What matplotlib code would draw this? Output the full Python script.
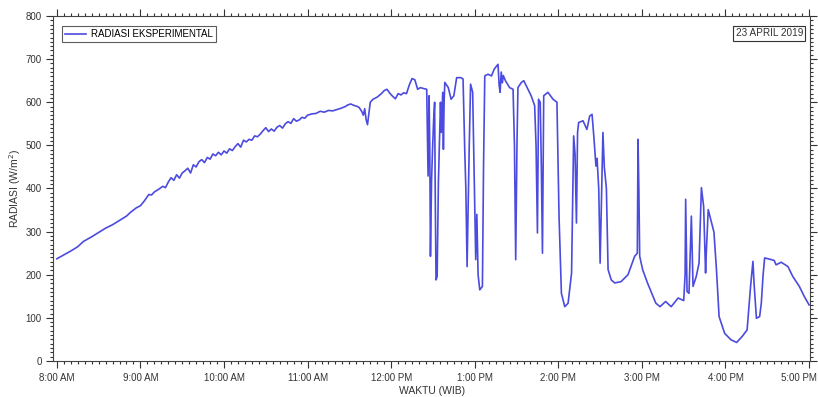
import matplotlib
matplotlib.use("Agg")
import matplotlib.pyplot as plt
from matplotlib.ticker import MultipleLocator
import matplotlib.transforms as mtransforms

plt.rcParams['font.family'] = ['Liberation Sans', 'DejaVu Sans']

# minutes after 8:00 AM
minutes = [0, 5, 10, 15, 19, 25, 30, 35, 40, 43, 47, 50, 53, 57, 60, 63, 66, 68, 70, 73, 76, 78, 80, 82, 84, 86, 88,
           90, 92, 94, 96, 98, 100, 102, 104, 106, 108, 110, 112, 114, 116, 118, 120, 122, 124, 126, 128, 130, 132,
           134, 136, 138, 140, 142, 144, 146, 148, 150, 152, 154, 156, 158, 160, 162, 164, 166, 168, 170, 172, 174,
           176, 178, 180, 183, 186, 189, 192, 195, 198, 201, 204, 207, 209, 211, 213, 215, 217, 219, 220, 221, 222,
           223, 224, 225, 227, 230, 233, 235, 237, 239, 241, 243, 245, 247, 249, 251, 253, 255, 257, 259, 261, 263,
           265.5, 266.5, 267.2, 267.7, 268.2, 269, 269.7, 270.5, 271.2, 271.6, 272.2, 273, 273.9, 275.4, 276, 277,
           277.5, 278, 278.5, 281, 283, 285, 287, 290, 291.6, 292.8, 293.6, 294.5, 296, 297, 298.5, 299.5, 300.7,
           301.5, 302.4, 303.6, 305.5, 306.3, 307.2, 309.5, 312, 314, 316.7, 317.5, 318.2, 319, 319.8, 320.5, 322,
           325, 327.5, 328.5, 329.4, 330.3, 331, 333.5, 335.2, 337, 340.5, 343, 344, 345, 345.8, 347, 347.8, 348.6,
           349.5, 352.5, 356.2, 359, 360.5, 362.2, 364.6, 367, 369.5, 371, 372, 373, 373.8, 374.6, 377.7, 380.5,
           382.5, 384.2, 385.5, 387, 387.8, 389, 390, 391, 392, 393, 394.5, 395.7, 398, 400.5, 405, 410, 414.8,
           416.7, 417.2, 417.8, 418.4, 420.5, 424, 428, 430, 433, 437, 441, 446, 450, 451, 451.4, 452.4, 453.8,
           455.5, 456.7, 459, 461, 462.7, 464.3, 465.7, 466.2, 467.6, 470, 471.7, 473.5, 475.4, 479.4, 484, 488,
           492, 495.5, 498, 499.7, 500.5, 502.2, 504.5, 505.7, 507, 508.1, 513, 515, 516.3, 520, 524.8, 528.3, 533,
           536.5, 540]

radiasi = [237, 246, 255, 265, 277, 288, 298, 308, 316, 322, 330, 336, 345, 355, 360, 372, 386, 385, 392, 398, 405,
           402, 415, 425, 419, 432, 424, 436, 441, 447, 436, 455, 450, 462, 467, 460, 472, 468, 480, 476, 484, 478,
           487, 482, 492, 488, 497, 504, 496, 512, 508, 514, 512, 522, 520, 526, 534, 541, 532, 538, 533, 542, 546,
           540, 550, 555, 551, 562, 556, 559, 565, 563, 570, 573, 574, 579, 577, 581, 580, 583, 586, 590, 594, 596,
           593, 591, 588, 578, 570, 585, 560, 548, 574, 600, 607, 612, 620, 627, 630, 621, 614, 608, 620, 617, 622,
           620, 640, 655, 652, 630, 634, 632, 630, 429, 615, 500, 243, 420, 491, 560, 600, 400, 188, 196, 413, 600,
           530, 623, 491, 600, 646, 634, 607, 615, 657, 657, 654, 491, 400, 219, 491, 642, 623, 450, 235, 340, 200,
           165, 173, 450, 661, 665, 661, 677, 688, 640, 623, 670, 645, 662, 650, 634, 630, 500, 235, 500, 634, 646,
           650, 638, 615, 592, 500, 297, 607, 600, 450, 250, 615, 623, 607, 600, 336, 157, 126, 134, 204, 522, 480,
           320, 530, 553, 557, 537, 568, 572, 520, 452, 470, 400, 227, 380, 530, 450, 400, 212, 188, 181, 184, 200,
           243, 250, 514, 400, 243, 212, 181, 150, 134, 126, 138, 126, 146, 140, 200, 375, 161, 157, 336, 173, 196,
           227, 402, 359, 204, 250, 351, 320, 299, 212, 103, 64, 49, 43, 57, 72, 173, 231, 180, 99, 103, 134, 200,
           239, 235, 233, 223, 229, 219, 196, 173, 150, 130]

tick_minutes = [0, 60, 120, 180, 240, 300, 360, 420, 480, 540]
tick_labels = ["8:00 AM", "9:00 AM", "10:00 AM", "11:00 AM", "12:00 PM",
               "1:00 PM", "2:00 PM", "3:00 PM", "4:00 PM", "5:00 PM"]
y_ticks = [0, 100, 200, 300, 400, 500, 600, 700, 800]

fig = plt.figure(figsize=(8.18, 3.97), dpi=100)
ax = fig.add_axes([0.0654, 0.0907, 0.9254, 0.869])

ax.plot(minutes, radiasi, color='#4b4bdf', linewidth=1.2, label='RADIASI EKSPERIMENTAL')

ax.set_xlim(-2.4, 541)
ax.set_ylim(0, 800)
ax.set_xticks(tick_minutes)
ax.set_xticklabels(tick_labels)
ax.set_yticks(y_ticks)
ax.xaxis.set_minor_locator(MultipleLocator(5))
ax.yaxis.set_minor_locator(MultipleLocator(10))
ax.tick_params(which='both', direction='out', top=True, right=True, labelsize=7, colors='#333333',
               labelcolor='#333333', width=0.8)
ax.tick_params(which='major', length=5)
ax.tick_params(which='minor', length=2.5)
ax.tick_params(axis='x', pad=4)
for s in ax.spines.values():
    s.set_color('#444444')
    s.set_linewidth(0.8)

# keep the last tick label inside the figure
last = ax.get_xticklabels()[-1]
last.set_transform(last.get_transform() + mtransforms.ScaledTranslation(-10 / 100, 0, fig.dpi_scale_trans))

ax.set_xlabel('WAKTU (WIB)', fontsize=7.5, color='#333333', labelpad=2)
ax.set_ylabel('RADIASI (W/m$^2$)', fontsize=7.5, color='#333333', labelpad=2)

leg = ax.legend(loc='upper left', bbox_to_anchor=(0.011, 0.97), fontsize=7, frameon=True, fancybox=False,
                handlelength=2.2, borderpad=0.3, handletextpad=0.5, borderaxespad=0)
leg.get_frame().set_edgecolor('#333333')
leg.get_frame().set_linewidth(0.8)

ax.text(0.99, 0.965, '23 APRIL 2019', transform=ax.transAxes, ha='right', va='top', fontsize=7.2,
        color='#333333', bbox=dict(boxstyle='square,pad=0.25', facecolor='white', edgecolor='#333333', linewidth=0.8))

fig.savefig('out.png', dpi=100)
